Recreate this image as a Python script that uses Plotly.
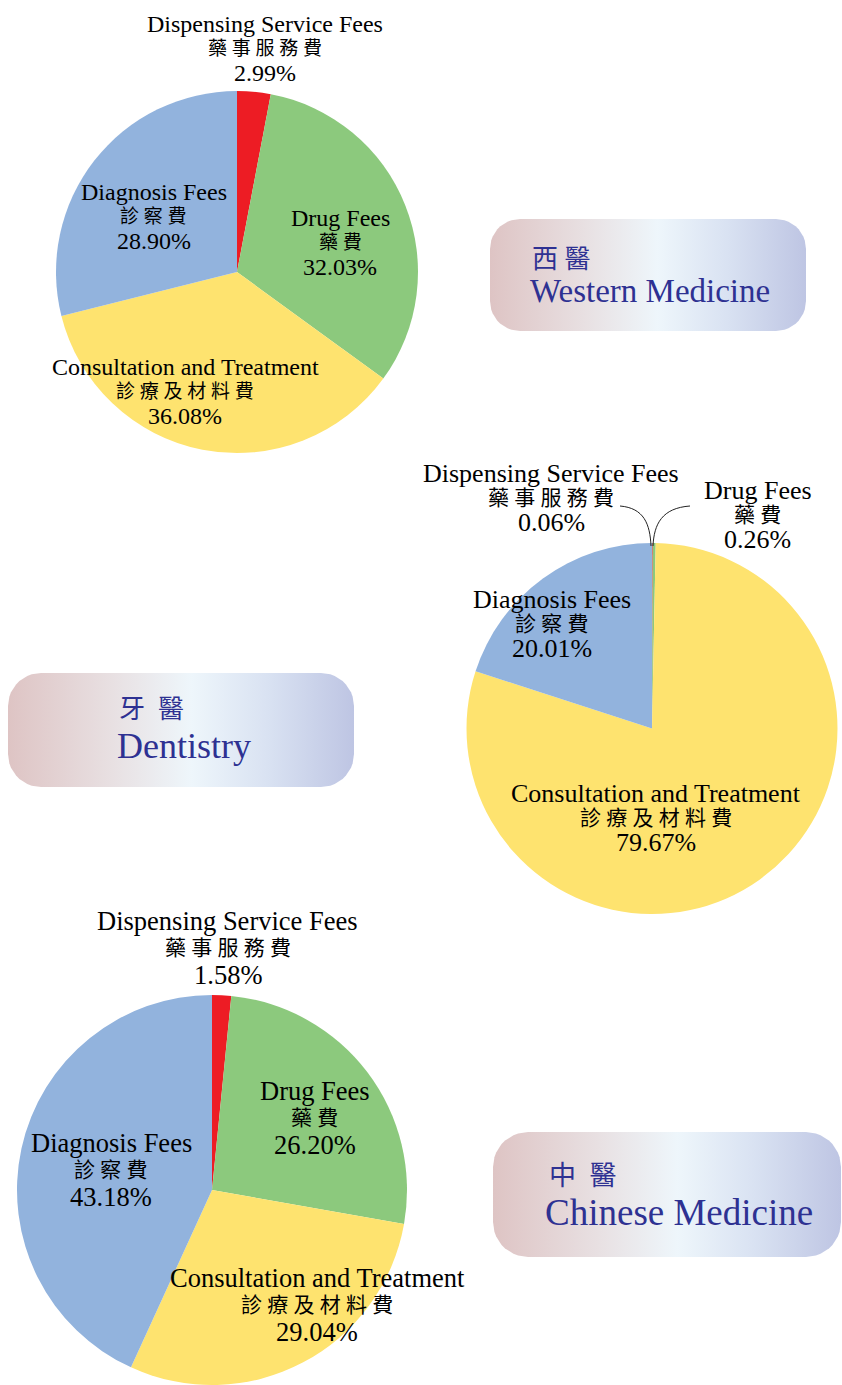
"""醫療費用構成 — 西醫 / 牙醫 / 中醫 の円グラフ3枚。"""

import numpy as np
import plotly.graph_objects as go

W, H = 842, 1385

# ---- data ----
categories_en = ["Dispensing Service Fees", "Drug Fees", "Consultation and Treatment", "Diagnosis Fees"]
categories_zh = ["藥事服務費", "藥費", "診療及材料費", "診察費"]
western_pct = [2.99, 32.03, 36.08, 28.90]
dentistry_pct = [0.06, 0.26, 79.67, 20.01]
chinese_pct = [1.58, 26.20, 29.04, 43.18]

slice_colors = ["#ed1c24", "#8cc97d", "#fee36f", "#92b3dd"]

LATIN = "Liberation Serif"
CJK = "Liberation Serif, Noto Sans CJK TC"
BADGE_TEXT = "#2e3192"

# ---- layout (pixel boxes, top-down) ----
panels = [
    dict(
        values=western_pct,
        box=(56, 418, 91, 453),
        size=24, gap=24.5,
        labels=[(265, 24), (340, 217.5), (185, 367), (153.5, 192)],
    ),
    dict(
        values=dentistry_pct,
        box=(462, 842, 543, 914),
        size=26, gap=24.5,
        labels=[(551, 473), (757.5, 490), (656, 793), (552, 599)],
    ),
    dict(
        values=chinese_pct,
        box=(16, 408, 995, 1385),
        size=26.5, gap=27,
        labels=[(227.5, 921), (314.5, 1091), (317, 1278), (111, 1143)],
    ),
]

badges = [
    dict(rect=(490, 806, 219, 331), rad=30,
         zh="西 醫", zh_pos=(530, 259), zh_size=26,
         en="Western Medicine", en_pos=(528, 291), en_size=33),
    dict(rect=(8, 354, 673, 787), rad=33,
         zh="牙\u2002醫", zh_pos=(117, 709), zh_size=26,
         en="Dentistry", en_pos=(115, 746), en_size=36),
    dict(rect=(493, 841, 1132, 1257), rad=35,
         zh="中\u2002醫", zh_pos=(547, 1176), zh_size=27,
         en="Chinese Medicine", en_pos=(543, 1212), en_size=37),
]

badge_scale = [
    [0.0, "#dec4c4"], [0.3, "#e8e0e2"], [0.53, "#eef6fb"],
    [0.75, "#d9e2f2"], [1.0, "#bec5e3"],
]


def rounded_rect(x0, x1, y0, y1, r, n=12):
    """角丸矩形の輪郭点を返す。"""
    xs, ys = [], []
    corners = [(x1 - r, y0 + r, -90, 0), (x1 - r, y1 - r, 0, 90),
               (x0 + r, y1 - r, 90, 180), (x0 + r, y0 + r, 180, 270)]
    for cx, cy, a0, a1 in corners:
        t = np.radians(np.linspace(a0, a1, n))
        xs.extend(cx + r * np.cos(t))
        ys.extend(cy + r * np.sin(t))
    xs.append(xs[0])
    ys.append(ys[0])
    return xs, ys


fig = go.Figure()

# badges
for b in badges:
    x0, x1, y0, y1 = b["rect"]
    bx, by = rounded_rect(x0, x1, y0, y1, b["rad"])
    fig.add_trace(
        go.Scatter(
            x=bx, y=by, mode="lines", fill="toself",
            line=dict(width=0, color="rgba(0,0,0,0)"),
            fillgradient=dict(type="horizontal", colorscale=badge_scale),
            hoverinfo="skip", showlegend=False,
        )
    )

annotations = []


def add_text(x, y, text, family, size, color="#000", anchor="center"):
    annotations.append(
        dict(x=x, y=y, xref="x", yref="y", text=text, showarrow=False,
             xanchor=anchor, yanchor="middle",
             font=dict(family=family, size=size, color=color))
    )


# pies
for p in panels:
    x0, x1, y0, y1 = p["box"]
    fig.add_trace(
        go.Pie(
            values=p["values"],
            labels=categories_en,
            marker=dict(colors=slice_colors, line=dict(width=0)),
            sort=False,
            direction="clockwise",
            rotation=0,
            textinfo="none",
            hoverinfo="label+percent",
            domain=dict(x=[x0 / W, x1 / W], y=[1 - y1 / H, 1 - y0 / H]),
            showlegend=False,
        )
    )
    for (lx, ly), en, zh, v in zip(p["labels"], categories_en, categories_zh, p["values"]):
        add_text(lx, ly, en, LATIN, p["size"])
        add_text(lx, ly + p["gap"], " ".join(zh), CJK, round(p["size"] * 0.8))
        add_text(lx, ly + 2 * p["gap"], f"{v:.2f}%", LATIN, p["size"])

for b in badges:
    add_text(*b["zh_pos"], b["zh"], CJK, b["zh_size"], BADGE_TEXT, "left")
    add_text(*b["en_pos"], b["en"], LATIN, b["en_size"], BADGE_TEXT, "left")

# 牙醫の小さい扇形への引出線
leaders = [
    "M 620 506 C 644 508 650 524 651 546",
    "M 690 506 C 662 508 654 524 653 546",
]
shapes = [
    dict(type="path", path=d, xref="x", yref="y", line=dict(color="#222", width=1))
    for d in leaders
]

fig.update_layout(
    width=W, height=H,
    margin=dict(l=0, r=0, t=0, b=0, pad=0),
    paper_bgcolor="white", plot_bgcolor="white",
    xaxis=dict(range=[0, W], visible=False, fixedrange=True),
    yaxis=dict(range=[H, 0], visible=False, fixedrange=True),
    annotations=annotations,
    shapes=shapes,
    showlegend=False,
)

fig.write_html(
    "out.html",
    config={"displayModeBar": False},
    post_script="document.body.style.margin='0';",
)
